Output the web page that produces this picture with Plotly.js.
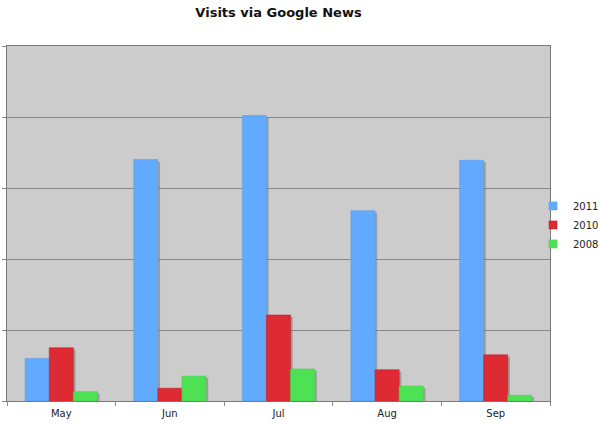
<!DOCTYPE html>
<html>
<head>
<meta charset="utf-8">
<script src="https://cdn.plot.ly/plotly-3.0.1.min.js"></script>
<style>
  html, body { margin: 0; padding: 0; background: #fff; }
  #chart { width: 600px; height: 427px; }
</style>
</head>
<body>
<div id="chart"></div>
<script>
// values (no axis labels, so the scale is arbitrary: 5 grid steps of 100)
const months = ["May", "Jun", "Jul", "Aug", "Sep"]
const visits_2011 = [60, 340, 402, 268, 339]
const visits_2010 = [75, 18, 121, 44, 65]
const visits_2008 = [13, 35, 45, 21, 8]

const series = [
    { name: "2011", y: visits_2011, color: "#62aaff", line: "#5a9eef" },
    { name: "2010", y: visits_2010, color: "#dd2a33", line: "#c9222b" },
    { name: "2008", y: visits_2008, color: "#4de254", line: "#44d24b" },
]

const bar_w = 0.222
const shadow_dx = 0.02
const shadow_dy = 2.5

let data = []

// soft drop shadows first, so the bars sit on top
series.forEach((s, i) => {
    data.push({
        type: "bar",
        x: months,
        y: s.y.map(v => Math.max(v - shadow_dy, 0)),
        width: bar_w,
        offset: -1.5 * bar_w + i * bar_w + shadow_dx,
        marker: { color: "rgba(120,120,120,0.55)" },
        showlegend: false,
        hoverinfo: "skip"
    })
})

series.forEach((s, i) => {
    data.push({
        type: "bar",
        name: s.name,
        x: months,
        y: s.y,
        width: bar_w,
        offset: -1.5 * bar_w + i * bar_w,
        marker: { color: s.color, line: { color: s.line, width: 0.6 } },
        showlegend: false,
        hovertemplate: "%{x}<br>%{y}<extra>" + s.name + "</extra>"
    })
})

// legend keys: small squares like the original, no points drawn
series.forEach(s => {
    data.push({
        type: "scatter",
        mode: "markers",
        name: s.name,
        x: [null],
        y: [null],
        marker: { symbol: "square", size: 8, color: s.color, line: { color: s.line, width: 0.6 } }
    })
})

const layout = {
    width: 600,
    height: 427,
    barmode: "overlay",
    font: { family: "DejaVu Sans, Verdana, sans-serif", size: 11, color: "#222" },
    paper_bgcolor: "#ffffff",
    plot_bgcolor: "#cccccc",
    margin: { l: 7, r: 50, t: 46, b: 26, autoexpand: false },
    title: {
        text: "<b>Visits via Google News</b>",
        font: { size: 13, color: "#111" },
        x: 0.5, xref: "paper",
        y: 0.972, yanchor: "middle"
    },
    xaxis: {
        type: "category",
        tickson: "boundaries",
        ticks: "outside",
        ticklen: 4,
        tickcolor: "#888",
        ticklabelstandoff: 3,
        showline: true,
        linecolor: "#7a7a7a",
        linewidth: 1,
        mirror: true,
        showgrid: false,
        tickfont: { size: 10, color: "#222" },
        fixedrange: true
    },
    yaxis: {
        range: [0, 500],
        dtick: 100,
        ticks: "outside",
        ticklen: 4,
        tickcolor: "#888",
        showticklabels: false,
        showline: true,
        linecolor: "#7a7a7a",
        linewidth: 1,
        mirror: true,
        showgrid: true,
        gridcolor: "#888",
        gridwidth: 1,
        zeroline: false,
        fixedrange: true
    },
    legend: {
        x: 0.9687, xanchor: "left",
        y: 0.496, yanchor: "middle",
        itemwidth: 30,
        tracegroupgap: 0,
        font: { size: 10, color: "#222" },
        bgcolor: "rgba(0,0,0,0)"
    },
    showlegend: true
}

Plotly.newPlot("chart", data, layout, { displayModeBar: false, staticPlot: true })
</script>
</body>
</html>
